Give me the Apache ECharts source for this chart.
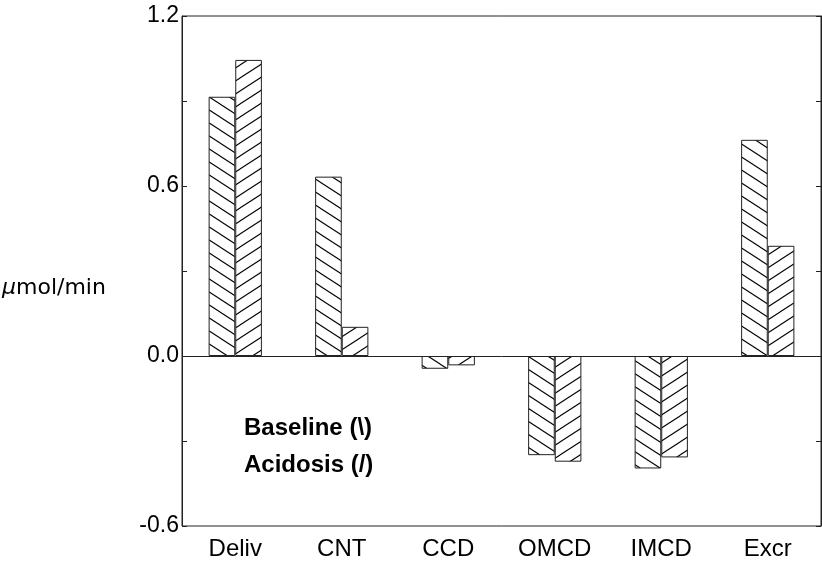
<!DOCTYPE html>
<html>
<head>
<meta charset="utf-8">
<script src="https://cdn.jsdelivr.net/npm/echarts@6/dist/echarts.min.js"></script>
<style>html,body{margin:0;padding:0;background:#fff}#c{width:822px;height:570px}</style>
</head>
<body>
<div id="c"></div>
<script>
const categories = ['Deliv', 'CNT', 'CCD', 'OMCD', 'IMCD', 'Excr'];
const baseline = [0.915, 0.633, -0.045, -0.35, -0.397, 0.763];
const acidosis = [1.045, 0.103, -0.033, -0.373, -0.358, 0.389];
const yTicks = [-0.6, 0.0, 0.6, 1.2];

const FONT = '"Liberation Sans", Arial, Helvetica, sans-serif';
const NAMEFONT = '"DejaVu Sans", "Liberation Sans", sans-serif';

function hatch(dir) {
  const w = 20, h = 13;
  const c = document.createElement('canvas');
  c.width = w; c.height = h;
  const g = c.getContext('2d');
  g.fillStyle = '#fff';
  g.fillRect(0, 0, w, h);
  g.strokeStyle = '#000';
  g.lineWidth = 1.1;
  for (const dx of [-w, 0, w]) {
    for (const dy of [-h, 0, h]) {
      g.beginPath();
      if (dir === 'back') {
        g.moveTo(dx, dy); g.lineTo(dx + w, dy + h);
      } else {
        g.moveTo(dx, dy + h); g.lineTo(dx + w, dy);
      }
      g.stroke();
    }
  }
  return c;
}

const chart = echarts.init(document.getElementById('c'), null, {renderer: 'canvas'});

const yAxisCommon = {
  type: 'value',
  min: yTicks[0],
  max: yTicks[yTicks.length - 1],
  interval: yTicks[1] - yTicks[0],
  splitLine: {show: false},
  axisLine: {show: true, lineStyle: {color: '#222', width: 1}},
  axisTick: {show: true, inside: true, length: 5, lineStyle: {color: '#222'}},
  minorTick: {show: true, splitNumber: 2, length: 5, lineStyle: {color: '#222'}}
};

chart.setOption({
  animation: false,
  backgroundColor: '#fff',
  grid: {left: 182, right: 1, top: 16, bottom: 44, show: true, borderColor: '#222', borderWidth: 1},
  xAxis: {
    type: 'category',
    data: categories,
    position: 'bottom',
    axisLine: {show: false, onZero: false},
    axisTick: {show: false},
    axisLabel: {color: '#000', fontFamily: FONT, fontSize: 24, margin: 11}
  },
  yAxis: [
    Object.assign({}, yAxisCommon, {
      position: 'left',
      axisLabel: {
        color: '#000', fontFamily: FONT, fontSize: 23, margin: 3,
        formatter: v => v.toFixed(1)
      }
    }),
    Object.assign({}, yAxisCommon, {
      position: 'right',
      axisLabel: {show: false}
    })
  ],
  graphic: [
    {
      type: 'text', left: 2, top: 277,
      style: {
        text: '{it|μ}mol/min',
        rich: {it: {fontStyle: 'italic', fontFamily: NAMEFONT, fontSize: 22, fill: '#000'}},
        font: '22px ' + NAMEFONT, fill: '#000'
      }
    },
    {
      type: 'text', left: 244, top: 416,
      style: {text: 'Baseline (\\)', font: 'bold 24px ' + FONT, fill: '#000'}
    },
    {
      type: 'text', left: 244, top: 453,
      style: {text: 'Acidosis (/)', font: 'bold 24px ' + FONT, fill: '#000'}
    }
  ],
  series: [
    {
      name: 'Baseline',
      type: 'bar',
      data: baseline,
      barGap: '0%',
      barCategoryGap: '50%',
      itemStyle: {color: {image: hatch('back'), repeat: 'repeat'}, borderColor: '#222', borderWidth: 1},
      markLine: {
        silent: true,
        symbol: 'none',
        label: {show: false},
        lineStyle: {color: '#222', width: 1, type: 'solid'},
        data: [{yAxis: 0}]
      }
    },
    {
      name: 'Acidosis',
      type: 'bar',
      data: acidosis,
      barGap: '0%',
      barCategoryGap: '50%',
      itemStyle: {color: {image: hatch('fwd'), repeat: 'repeat'}, borderColor: '#222', borderWidth: 1}
    }
  ]
});
</script>
</body>
</html>
